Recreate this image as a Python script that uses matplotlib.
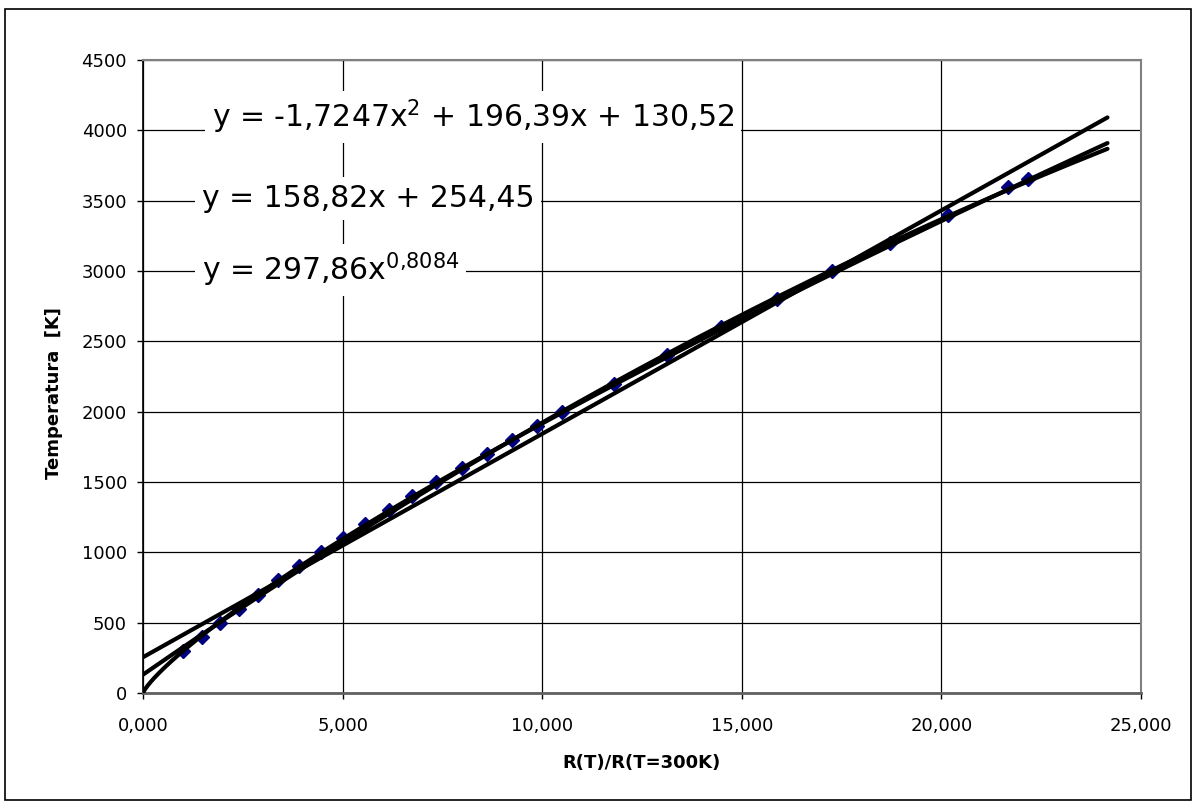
import numpy as np
import matplotlib
matplotlib.use("Agg")
import matplotlib.pyplot as plt
from matplotlib.patches import Rectangle

plt.rcParams['font.family'] = ['DejaVu Sans']
plt.rcParams['mathtext.fontset'] = 'dejavusans'

# Data: resistance ratio vs temperature
ratio = [1.00, 1.47, 1.93, 2.41, 2.88, 3.37, 3.90, 4.45, 5.00, 5.57, 6.15, 6.74,
         7.35, 7.98, 8.61, 9.24, 9.87, 10.50, 11.81, 13.12, 14.49, 15.88,
         17.27, 18.72, 20.16, 21.68, 22.16]
temperature = [300, 400, 500, 600, 700, 800, 900, 1000, 1100, 1200, 1300, 1400,
               1500, 1600, 1700, 1800, 1900, 2000, 2200, 2400, 2600, 2800,
               3000, 3200, 3400, 3600, 3655]

# Trendline coefficients (as shown in the chart)
quad_coef = [-1.7247, 196.39, 130.52]
lin_coef = [158.82, 254.45]
pow_coef = [297.86, 0.8084]
trend_end = 24.16

x_ticks = [0, 5, 10, 15, 20, 25]
x_ticklabels = ["0,000", "5,000", "10,000", "15,000", "20,000", "25,000"]
y_ticks = list(range(0, 4501, 500))

eq_quad = r"y = -1,7247x$^{\mathregular{2}}$ + 196,39x + 130,52"
eq_lin = "y = 158,82x + 254,45"
eq_pow = r"y = 297,86x$^{\mathregular{0{,}8084}}$"

W, H = 1197, 808
fig = plt.figure(figsize=(W / 100, H / 100), dpi=100)
ax = fig.add_axes([143 / W, 1 - 693 / H, (1141 - 143) / W, (693 - 60) / H])

# figure border
fig.patches.append(Rectangle((5 / W, 1 - 800 / H), (1191 - 5) / W, (800 - 9) / H,
                             transform=fig.transFigure, fill=False,
                             edgecolor='black', linewidth=1.2))

ax.set_xlim(0, 25)
ax.set_ylim(0, 4500)
ax.set_xticks(x_ticks)
ax.set_xticklabels(x_ticklabels)
ax.set_yticks(y_ticks)
ax.grid(True, color='black', linewidth=0.9)
ax.set_axisbelow(True)

ax.plot(ratio, temperature, linestyle='none', marker='D', markersize=7,
        color='#000080', zorder=3)

xs = np.linspace(0, trend_end, 400)
xp = np.linspace(0.0005, trend_end, 2000)
ax.plot(xs, np.polyval(quad_coef, xs), color='black', lw=3, zorder=4,
        solid_capstyle='round')
ax.plot(xs, np.polyval(lin_coef, xs), color='black', lw=3, zorder=4,
        solid_capstyle='round')
ax.plot(xp, pow_coef[0] * xp ** pow_coef[1], color='black', lw=3, zorder=4,
        solid_capstyle='round')

bbox = dict(facecolor='white', edgecolor='none', pad=5)
ax.text(1.72, 4020, eq_quad, fontsize=21.5, va='baseline', ha='left', bbox=bbox, zorder=5)
ax.text(1.47, 3455, eq_lin, fontsize=21.5, va='baseline', ha='left', bbox=bbox, zorder=5)
ax.text(1.47, 2930, eq_pow, fontsize=21.5, va='baseline', ha='left', bbox=bbox, zorder=5)

for s in ['top', 'right']:
    ax.spines[s].set_color('#808080')
    ax.spines[s].set_linewidth(1.5)
ax.spines['left'].set_color('black')
ax.spines['left'].set_linewidth(1.2)
ax.spines['bottom'].set_color('#606060')
ax.spines['bottom'].set_linewidth(2)

ax.tick_params(axis='y', direction='out', length=4.5, width=1, labelsize=13, pad=7)
ax.tick_params(axis='x', direction='out', length=4.5, width=1, labelsize=13, pad=13)
ax.set_xlabel("R(T)/R(T=300K)", fontsize=13, fontweight='bold')
ax.set_ylabel("Temperatura  [K]", fontsize=13, fontweight='bold')
ax.xaxis.set_label_coords(0.5, (693 - 763) / 633)
ax.xaxis.label.set_va('center')
ax.yaxis.set_label_coords((54 - 143) / 998, (693 - 393) / 633)
ax.yaxis.label.set_va('center')

fig.savefig("out.png", dpi=100)
